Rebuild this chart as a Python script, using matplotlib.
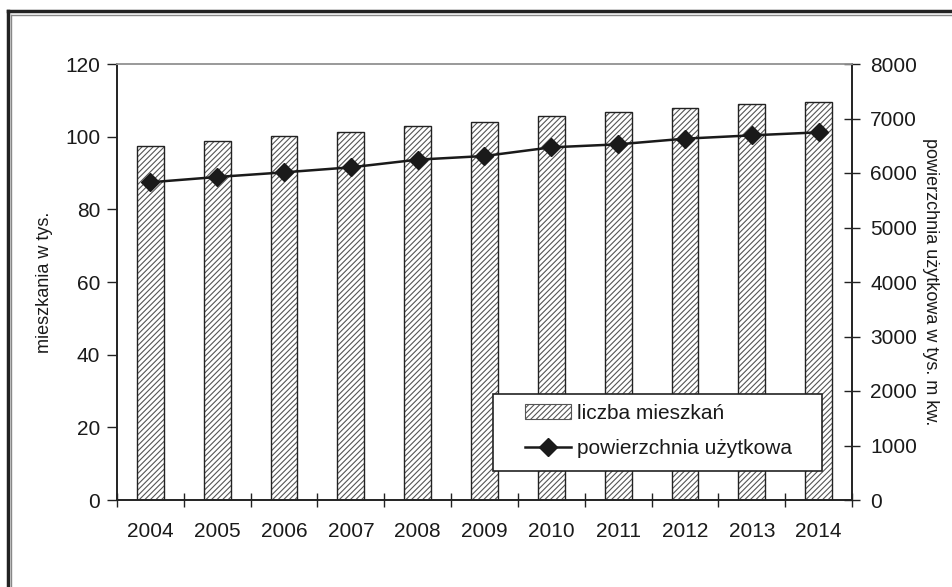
import matplotlib
matplotlib.use("Agg")
import matplotlib.pyplot as plt
from matplotlib.lines import Line2D
from matplotlib.patches import Patch, Rectangle
import numpy as np

plt.rcParams['font.family'] = ['Liberation Sans', 'DejaVu Sans']

years = ['2004', '2005', '2006', '2007', '2008', '2009', '2010', '2011', '2012', '2013', '2014']
mieszkania = [97.5, 98.8, 100.1, 101.2, 102.8, 104.0, 105.8, 106.9, 107.9, 109.0, 109.6]
powierzchnia = [5830, 5927, 6012, 6104, 6245, 6312, 6471, 6526, 6630, 6691, 6746]

W, H = 953, 587
fig = plt.figure(figsize=(W / 100, H / 100), dpi=100)
ax = fig.add_axes([117 / W, 1 - 500 / H, (852 - 117) / W, (500 - 64) / H])
ax2 = ax.twinx()

x = np.arange(len(years))
plt.rcParams['hatch.linewidth'] = 0.8
ax.bar(x, mieszkania, width=0.4, color='white', edgecolor='#555555', hatch='//////', linewidth=0, zorder=2)
ax.bar(x, mieszkania, width=0.4, fill=False, edgecolor='#222222', linewidth=1.0, zorder=3)

ax2.plot(x, powierzchnia, color='#1a1a1a', lw=1.8, marker='D', markersize=9, zorder=4)

ax.set_xlim(-0.5, len(years) - 0.5)
ax.set_ylim(0, 120)
ax2.set_ylim(0, 8000)
ax.set_yticks(np.arange(0, 121, 20))
ax2.set_yticks(np.arange(0, 8001, 1000))

ax.set_xticks(np.arange(-0.5, len(years), 1.0))
ax.set_xticklabels([])
ax.set_xticks(x, minor=True)
ax.set_xticklabels(years, minor=True)

fs = 15
ax.tick_params(axis='x', which='major', direction='inout', length=10, width=1, color='#222222')
ax.tick_params(axis='x', which='minor', length=0, labelsize=fs, pad=16, labelcolor='#1a1a1a')
ax.tick_params(axis='y', direction='out', length=7, width=1, labelsize=fs, pad=5, color='#222222', labelcolor='#1a1a1a')
ax2.tick_params(axis='y', direction='inout', length=12, width=1, labelsize=fs, pad=7, color='#222222', labelcolor='#1a1a1a')

for a in (ax, ax2):
    a.spines['top'].set_color('#999999')
    a.spines['top'].set_linewidth(1.2)
    for s in ('left', 'right', 'bottom'):
        a.spines[s].set_color('#222222')
        a.spines[s].set_linewidth(1.2)

ax.set_ylabel('mieszkania w tys.', fontsize=13, color='#1a1a1a')
ax.yaxis.set_label_coords((53 - 117) / (852 - 117), 0.5)
ax2.set_ylabel('powierzchnia użytkowa w tys. m kw.', fontsize=13, color='#1a1a1a', rotation=-90, va='center')
ax2.yaxis.set_label_coords((931 - 117) / (852 - 117), 0.5)

# legend box
lx0, lx1, ly0, ly1 = 493, 822, 394, 471
box = Rectangle(((lx0 - 117) / 735, (500 - ly1) / 436), (lx1 - lx0) / 735, (ly1 - ly0) / 436,
                transform=ax2.transAxes, facecolor='white', edgecolor='#222222', lw=1.2, zorder=9)
ax2.add_patch(box)

handles = [Patch(facecolor='white', edgecolor='#555555', hatch='//////', linewidth=0.8),
           Line2D([], [], color='#1a1a1a', lw=1.8, marker='D', markersize=9)]
leg = ax2.legend(handles, ['liczba mieszkań', 'powierzchnia użytkowa'],
                 loc='center left', bbox_to_anchor=((525 - 117) / 735, (500 - 431) / 436),
                 fontsize=fs, frameon=False, handlelength=2.2, handletextpad=0.3,
                 labelspacing=0.8, borderpad=0, borderaxespad=0)
leg.set_zorder(10)
for t in leg.get_texts():
    t.set_color('#1a1a1a')

# figure border
fig.add_artist(Line2D([8 / W, 8 / W], [0, 1 - 11 / H], color='#222222', lw=2.5, transform=fig.transFigure))
fig.add_artist(Line2D([8 / W, 1], [1 - 11 / H, 1 - 11 / H], color='#222222', lw=2.5, transform=fig.transFigure))
fig.add_artist(Line2D([11.5 / W, 11.5 / W], [0, 1 - 14.5 / H], color='#888888', lw=1, transform=fig.transFigure))
fig.add_artist(Line2D([11.5 / W, 1], [1 - 14.5 / H, 1 - 14.5 / H], color='#888888', lw=1, transform=fig.transFigure))

fig.savefig('out.png', dpi=100)
